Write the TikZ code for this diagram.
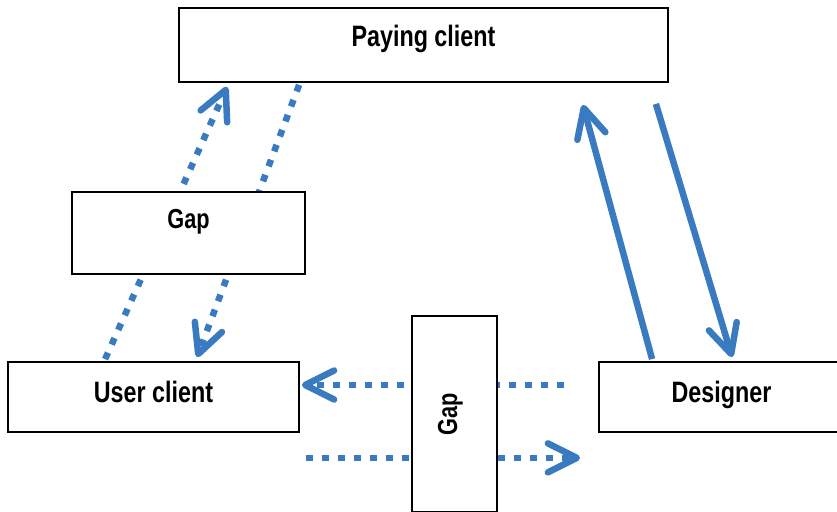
\documentclass[tikz,border=0pt]{standalone}
\usepackage{fontspec}
\newfontfamily\boxfont[FakeStretch=0.79]{Liberation Sans}
\definecolor{linkblue}{RGB}{58,122,192}
\usetikzlibrary{arrows.meta}
\tikzset{
	box/.style={rectangle, draw=black, fill=white, line width=1.8pt, inner sep=0pt, align=center, text height=22pt, font=\boxfont\bfseries\fontsize{29.5}{30}\selectfont},
	gapbox/.style={box, font=\boxfont\bfseries\fontsize{27.5}{28}\selectfont},
	link/.style={-{Straight Barb[length=29pt, width=29pt, round]}, line width=6.5pt, draw=linkblue},
	dotlink/.style={link, dash pattern=on 7pt off 9pt},
}

\begin{document}
\begin{tikzpicture}[x=1pt, y=-1pt]
	\useasboundingbox (0,0) rectangle (837,511);
	\clip (0,0) rectangle (837,511);
	\node[box, minimum width=489pt, minimum height=74pt, text depth=19pt] (pay) at (423.5,45) {Paying client};
	\node[box, minimum width=291pt, minimum height=70pt, text depth=12pt] (user) at (153.5,397) {User client};
	\node[box, minimum width=245pt, minimum height=70pt, text depth=12pt] (des) at (721.5,397) {Designer};
	\draw[dotlink] ([shift={(98,-2)}]user.north west) -- ([shift={(49,4)}]pay.south west);
	\draw[dotlink] ([shift={(121,2)}]pay.south west) -- ([shift={(190,-4)}]user.north west);
	\draw[link] ([shift={(54,-2)}]des.north west) -- ([shift={(-86,22)}]pay.south east);
	\draw[link] ([shift={(-13,21)}]pay.south east) -- ([shift={(134,-4)}]des.north west);
	\draw[dotlink] ([shift={(-34,-12)}]des.west) -- ([shift={(2,-12)}]user.east);
	\draw[dotlink] ([shift={(6,25)}]user.south east) -- ([shift={(-18,25)}]des.south west);
	\node[gapbox, minimum width=233pt, minimum height=82pt, text depth=30.3pt] (gapa) at (188.5,233) {Gap};
	\node[gapbox, rotate=90, minimum width=196pt, minimum height=85pt, text depth=17pt] (gapb) at (454.5,414) {Gap};
\end{tikzpicture}
\end{document}
